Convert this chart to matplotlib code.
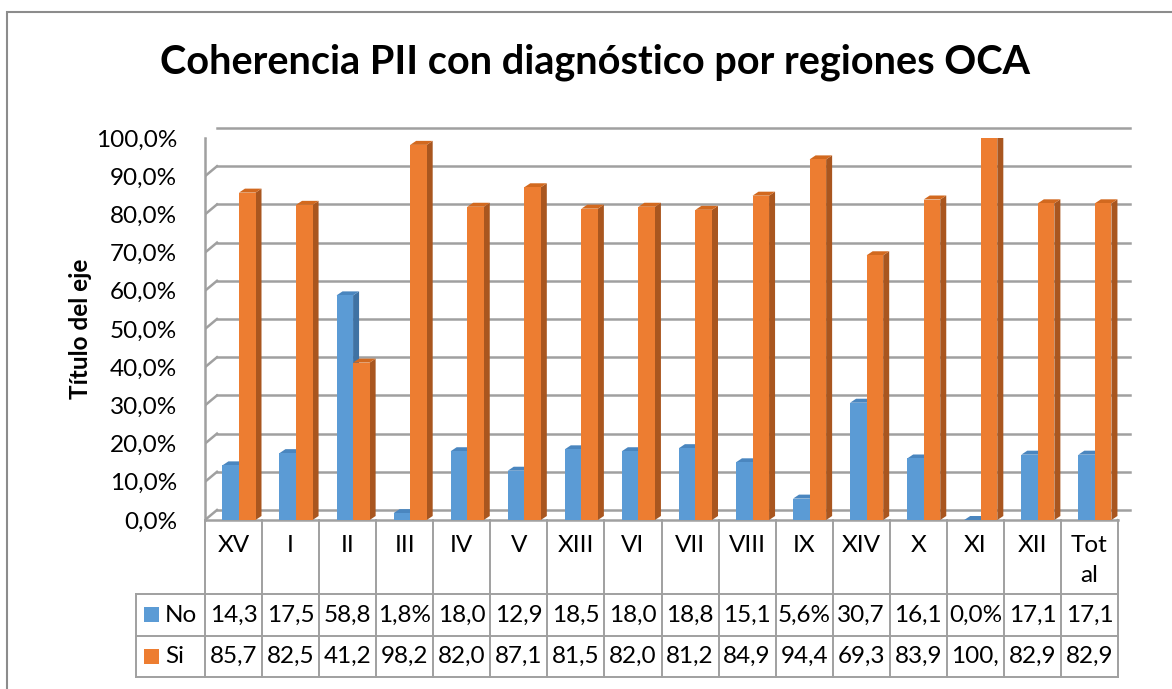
import matplotlib
matplotlib.use("Agg")
import matplotlib.pyplot as plt
import matplotlib.transforms as mtransforms
from matplotlib.patches import Polygon, Rectangle
import numpy as np

plt.rcParams['font.family'] = ['Lato', 'DejaVu Sans']

title = "Coherencia PII con diagnóstico por regiones OCA"
ylabel = "Título del eje"
categories = ["XV", "I", "II", "III", "IV", "V", "XIII", "VI", "VII", "VIII",
              "IX", "XIV", "X", "XI", "XII", "Tot\nal"]
series_names = ["No", "Si"]
no_vals = [14.3, 17.5, 58.8, 1.8, 18.0, 12.9, 18.5, 18.0, 18.8, 15.1, 5.6, 30.7, 16.1, 0.0, 17.1, 17.1]
si_vals = [85.7, 82.5, 41.2, 98.2, 82.0, 87.1, 81.5, 82.0, 81.2, 84.9, 94.4, 69.3, 83.9, 100.0, 82.9, 82.9]
no_text = ["14,3", "17,5", "58,8", "1,8%", "18,0", "12,9", "18,5", "18,0", "18,8", "15,1",
           "5,6%", "30,7", "16,1", "0,0%", "17,1", "17,1"]
si_text = ["85,7", "82,5", "41,2", "98,2", "82,0", "87,1", "81,5", "82,0", "81,2", "84,9",
           "94,4", "69,3", "83,9", "100,", "82,9", "82,9"]
yticks = list(range(0, 101, 10))

colors = {"No": ("#5B9BD5", "#3F72A3", "#4A86BF"), "Si": ("#ED7D31", "#A9561F", "#D2691F")}

W, H = 1172, 689
fig = plt.figure(figsize=(W / 100, H / 100), dpi=100)
fig.patch.set_facecolor("white")

# plot area geometry in pixels
x0, x1 = 205, 1118
yb, yt = 520, 138
ax = fig.add_axes([x0 / W, 1 - yb / H, (x1 - x0) / W, (yb - yt) / H])
n = len(categories)
ax.set_xlim(-0.5, n - 0.5)
ax.set_ylim(0, 100)
ax.patch.set_alpha(0)
for s in ax.spines.values():
    s.set_visible(False)
fs = 17.5
ax.set_xticks([])
ax.set_yticks(yticks)
ax.set_yticklabels([f"{v:.1f}%".replace(".", ",") for v in yticks], fontsize=fs)
ax.tick_params(axis="y", length=0, pad=20)
ax.set_ylabel(ylabel, fontsize=17.5, fontweight="bold", labelpad=3)

# 3D offsets (pixels)
DX, DY = 12, 10
back = ax.transData + mtransforms.Affine2D().translate(DX, DY)
grid_c = "#A0A0A0"
glw = 1.8
for v in yticks:
    ax.plot([-0.5, n - 0.5], [v, v], color=grid_c, lw=glw, transform=back, zorder=1, clip_on=False)
td = ax.transData
ident = mtransforms.IdentityTransform()
for v in yticks:
    p0 = td.transform((-0.5, v))
    ax.add_line(plt.Line2D([p0[0], p0[0] + DX], [p0[1], p0[1] + DY], color=grid_c, lw=glw,
                           transform=ident, zorder=1))
ax.plot([-0.5, -0.5], [0, 100], color=grid_c, lw=glw, zorder=1, clip_on=False)
# floor
ax.plot([-0.5, n - 0.5], [0, 0], color=grid_c, lw=glw, zorder=1, clip_on=False)
p0 = td.transform((n - 0.5, 0))
ax.add_line(plt.Line2D([p0[0], p0[0] + DX + 4], [p0[1], p0[1] + DY], color=grid_c, lw=glw,
                       transform=ident, zorder=1))

# bars
bw = 0.29
offsets = {"No": -0.05, "Si": 0.24}
bdx, bdy = 6, 4
for i in range(n):
    for name, vals in (("No", no_vals), ("Si", si_vals)):
        front, side, top = colors[name]
        h = vals[i]
        xc = i + offsets[name]
        xl, xr = xc - bw / 2, xc + bw / 2
        (pl0, pb), (pr0, ph) = td.transform([(xl, 0), (xr, h)])
        ax.add_patch(Polygon([(pr0, pb), (pr0 + bdx, pb + bdy), (pr0 + bdx, ph + bdy), (pr0, ph)],
                             closed=True, facecolor=side, edgecolor="none", transform=ident, zorder=3))
        ax.add_patch(Polygon([(pl0, ph), (pr0, ph), (pr0 + bdx, ph + bdy), (pl0 + bdx, ph + bdy)],
                             closed=True, facecolor=top, edgecolor="none", transform=ident, zorder=3))
        ax.bar(xc, h, width=bw, color=front, edgecolor="none", zorder=3)

# data table
tbl_c = "#A0A0A0"
fig_px = mtransforms.blended_transform_factory(ax.transData, ident)
def py(y):
    return H - y

r_head_top, r_no, r_si, r_bot = 520, 594, 636, 677
leg_x = 136
for i in range(n + 1):
    ax.add_line(plt.Line2D([i - 0.5, i - 0.5], [py(r_head_top), py(r_bot)], color=tbl_c, lw=1.4,
                           transform=fig_px, zorder=2, clip_on=False))
for yy in (r_no, r_si, r_bot):
    ax.add_line(plt.Line2D([leg_x, x1], [py(yy), py(yy)], color=tbl_c, lw=1.4,
                           transform=ident, zorder=2, clip_on=False))
ax.add_line(plt.Line2D([leg_x, leg_x], [py(r_no), py(r_bot)], color=tbl_c, lw=1.4,
                       transform=ident, zorder=2, clip_on=False))

for i, c in enumerate(categories):
    ax.text(i, py(535), c, transform=fig_px, ha="center", va="top", fontsize=fs,
            linespacing=1.55, clip_on=False)
    ax.text(i, py((r_no + r_si) / 2), no_text[i], transform=fig_px, ha="center", va="center",
            fontsize=fs, clip_on=False)
    ax.text(i, py((r_si + r_bot) / 2), si_text[i], transform=fig_px, ha="center", va="center",
            fontsize=fs, clip_on=False)

for name, yy0, yy1 in (("No", r_no, r_si), ("Si", r_si, r_bot)):
    ym = (yy0 + yy1) / 2
    ax.add_patch(Rectangle((144, py(ym) - 7), 15, 15, facecolor=colors[name][0], edgecolor="none",
                           transform=ident, clip_on=False))
    ax.text(165, py(ym), name, transform=ident, ha="left", va="center", fontsize=fs, clip_on=False)

# title
fig.text(0.5075, 1 - 62 / H, title, ha="center", va="center", fontsize=28.5, fontweight="bold")

# chart border
fig.add_artist(Rectangle((7, py(760)), 1200, 760 - 12, facecolor="none", edgecolor="#8C8C8C",
                         lw=1.5, transform=ident))

fig.savefig("out.png", dpi=100)
